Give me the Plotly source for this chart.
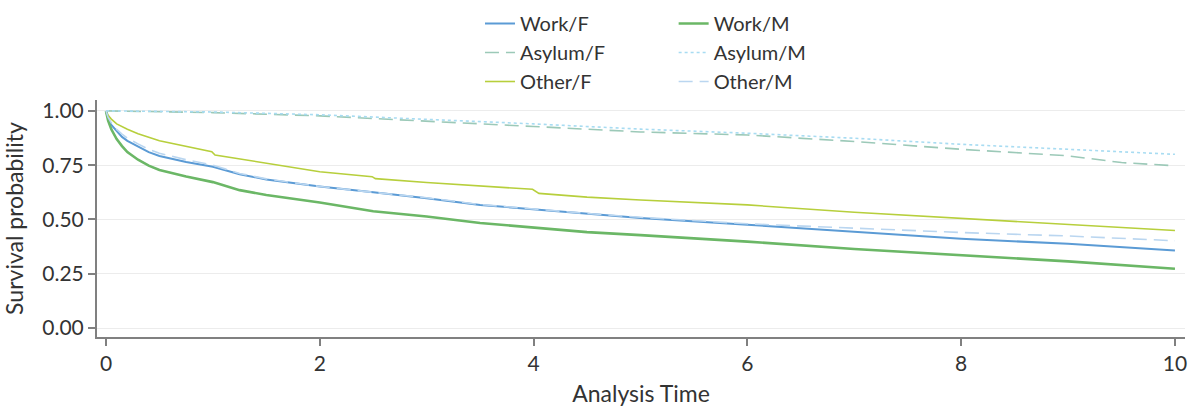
import plotly.graph_objects as go

# ---- data ----
t_work_f = [0, 0.02, 0.05, 0.1, 0.15, 0.2, 0.3, 0.4, 0.5, 0.75, 1, 1.25, 1.5, 2, 2.5, 3, 3.5, 4, 4.5, 5, 6, 7, 8, 9, 10]
s_work_f = [1, 0.965, 0.935, 0.905, 0.88, 0.862, 0.835, 0.81, 0.792, 0.765, 0.743, 0.708, 0.684, 0.652, 0.625, 0.598, 0.567, 0.546, 0.526, 0.507, 0.476, 0.443, 0.411, 0.388, 0.357]

t_work_m = [0, 0.02, 0.05, 0.1, 0.15, 0.2, 0.3, 0.4, 0.5, 0.75, 1, 1.25, 1.5, 2, 2.5, 3, 3.5, 4, 4.5, 5, 6, 7, 8, 9, 10]
s_work_m = [1, 0.955, 0.915, 0.87, 0.838, 0.81, 0.775, 0.748, 0.728, 0.698, 0.672, 0.635, 0.613, 0.578, 0.538, 0.514, 0.484, 0.464, 0.442, 0.428, 0.398, 0.364, 0.337, 0.307, 0.273]

t_asylum_f = [0, 1, 2, 3, 4, 5, 6, 7, 8, 9, 9.3, 9.5, 10]
s_asylum_f = [1, 0.992, 0.977, 0.951, 0.928, 0.903, 0.889, 0.859, 0.823, 0.793, 0.775, 0.762, 0.747]

t_asylum_m = [0, 1, 2, 3, 4, 5, 6, 7, 8, 9, 9.5, 10]
s_asylum_m = [1, 0.995, 0.982, 0.962, 0.94, 0.916, 0.897, 0.874, 0.846, 0.823, 0.812, 0.80]

t_other_f = [0, 0.02, 0.05, 0.1, 0.2, 0.3, 0.5, 0.75, 0.99, 1.02, 1.5, 2, 2.49, 2.52, 3, 3.5, 3.99, 4.05, 4.5, 5, 6, 7, 8, 9, 10]
s_other_f = [1, 0.98, 0.962, 0.94, 0.915, 0.895, 0.862, 0.835, 0.812, 0.797, 0.759, 0.72, 0.697, 0.688, 0.67, 0.654, 0.639, 0.62, 0.603, 0.59, 0.567, 0.533, 0.505, 0.478, 0.449]

t_other_m = [0, 0.02, 0.05, 0.1, 0.15, 0.2, 0.3, 0.4, 0.5, 0.75, 1, 1.25, 1.5, 2, 2.5, 3, 3.5, 4, 4.5, 5, 6, 7, 8, 9, 10]
s_other_m = [1, 0.97, 0.945, 0.915, 0.893, 0.875, 0.848, 0.823, 0.805, 0.775, 0.75, 0.712, 0.687, 0.652, 0.625, 0.600, 0.569, 0.548, 0.528, 0.51, 0.48, 0.46, 0.44, 0.424, 0.402]

x_ticks = [0, 2, 4, 6, 8, 10]
y_ticks = [0, 0.25, 0.5, 0.75, 1.0]
y_tick_labels = ["0.00", "0.25", "0.50", "0.75", "1.00"]

FONT = "Lato"
TXT = "#333333"
AXC = "#808080"

fig = go.Figure()

def add(name, t, s, color, width, dash, legend):
    fig.add_trace(go.Scatter(x=t, y=s, mode="lines", name=name,
                             line=dict(color=color, width=width, dash=dash),
                             legend=legend))

add("Work/F", t_work_f, s_work_f, "#5b9bd5", 2, "solid", "legend")
add("Asylum/F", t_asylum_f, s_asylum_f, "#9cc9b8", 1.6, "14px,7px", "legend")
add("Other/F", t_other_f, s_other_f, "#b7cf3c", 1.6, "solid", "legend")
add("Work/M", t_work_m, s_work_m, "#6bb766", 2.6, "solid", "legend2")
add("Asylum/M", t_asylum_m, s_asylum_m, "#a8dcf2", 1.6, "3px,3px", "legend2")
add("Other/M", t_other_m, s_other_m, "#bad6f0", 1.6, "14px,7px", "legend2")

legend_common = dict(
    orientation="v", yanchor="top", y=1 - 4 / 407, yref="container",
    xanchor="left", bgcolor="rgba(0,0,0,0)",
    font=dict(family=FONT, size=20, color=TXT),
    tracegroupgap=0, itemwidth=30,
)

fig.update_layout(
    width=1192, height=407,
    paper_bgcolor="white", plot_bgcolor="white",
    margin=dict(l=97, r=7, t=100, b=70, autoexpand=False),
    font=dict(family=FONT, size=20, color=TXT),
    legend=dict(x=0.352, **legend_common),
    legend2=dict(x=0.530, **legend_common),
    showlegend=True,
)

fig.update_xaxes(
    range=[-0.084, 10.094], tickvals=x_ticks,
    showline=True, linecolor=AXC, linewidth=2,
    ticks="outside", ticklen=7, tickcolor=AXC, tickwidth=1.5,
    showgrid=False, zeroline=False,
    tickfont=dict(family=FONT, size=21, color=TXT),
    title=dict(text="Analysis Time", font=dict(family=FONT, size=23, color=TXT)),
)
fig.update_yaxes(
    range=[-0.041, 1.05], tickvals=y_ticks, ticktext=y_tick_labels,
    showline=True, linecolor=AXC, linewidth=2,
    ticks="outside", ticklen=7, tickcolor=AXC, tickwidth=1.5,
    showgrid=True, gridcolor="#ececec", gridwidth=1.2, zeroline=False,
    tickfont=dict(family=FONT, size=21, color=TXT),
    title=dict(text="Survival probability", font=dict(family=FONT, size=23, color=TXT)),
)

fig.write_html(
    "out.html",
    config={"displayModeBar": False},
    post_script="document.body.style.margin='0';document.body.style.overflow='hidden';",
)
